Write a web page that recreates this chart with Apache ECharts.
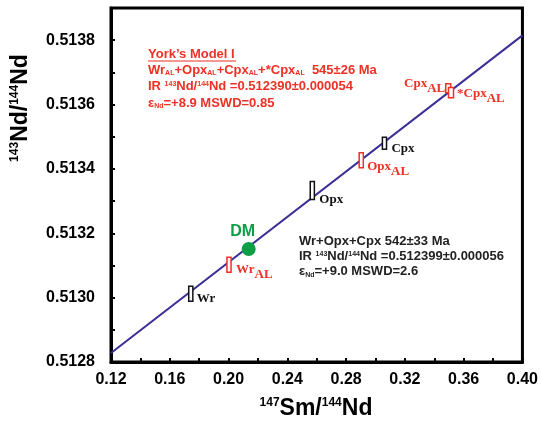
<!DOCTYPE html>
<html>
<head>
<meta charset="utf-8">
<script src="https://cdn.jsdelivr.net/npm/echarts@6/dist/echarts.min.js"></script>
<style>
  html, body { margin: 0; padding: 0; background: #fff; }
  #chart { width: 541px; height: 421px; }
</style>
</head>
<body>
<div id="chart"></div>
<script>
// measured samples (147Sm/144Nd, 143Nd/144Nd) with error box half-widths
const sampleNames = ['Wr', 'WrAL', 'Opx', 'OpxAL', 'Cpx', 'CpxAL', '*CpxAL'];
const smNd = [0.1743, 0.2003, 0.2570, 0.2903, 0.3061, 0.3495, 0.3514];
const ndNd = [0.513012, 0.513102, 0.513333, 0.513427, 0.513480, 0.513651, 0.513637];
const smNdErr = [0.0014, 0.0014, 0.0014, 0.0014, 0.0014, 0.0017, 0.0017];
const ndNdErr = [0.0000234, 0.0000234, 0.000028, 0.0000234, 0.0000187, 0.000014, 0.0000156];

// depleted mantle point and the isochron end points
const dmPoint = [0.2137, 0.513151];
const isochronX = [0.12, 0.40];
const isochronY = [0.512828, 0.513815];

// axis ranges / ticks
const xMin = 0.12, xMax = 0.40, xStep = 0.04;
const yMin = 0.5128, yMax = 0.5139, yStep = 0.0002;

const RED = '#ee3124';
const BLACK = '#111';
const GREEN = '#0e9e46';
const SANS = '"Liberation Sans", Arial, sans-serif';
const SERIF = '"Liberation Serif", "Times New Roman", serif';

// label placement for the error boxes (px from box centre)
const labelLayout = {
  'Wr':     { dx: 6, dy: 5, align: 'left', color: BLACK },
  'WrAL':   { dx: 7, dy: 5, align: 'left', color: RED },
  'Opx':    { dx: 7, dy: 9, align: 'left', color: BLACK },
  'OpxAL':  { dx: 6, dy: 6, align: 'left', color: RED },
  'Cpx':    { dx: 7, dy: 5, align: 'left', color: BLACK },
  'CpxAL':  { dx: -3, dy: -4, align: 'right', color: RED },
  '*CpxAL': { dx: 6, dy: 1, align: 'left', color: RED }
};

function boxLabel(name) {
  if (name.endsWith('AL')) return '{m|' + name.slice(0, -2) + '}{s|AL}';
  return '{m|' + name + '}';
}

function annoRich(color) {
  return {
    m: { fontSize: 13, fontWeight: 'bold', fontFamily: SANS, fill: color },
    sub: { fontSize: 7, fontWeight: 'bold', fontFamily: SANS, fill: color, padding: [7, 0, 0, 0] },
    sup: { fontSize: 7, fontWeight: 'bold', fontFamily: SANS, fill: color, padding: [0, 0, 4, 0] }
  };
}

function annoText(x, y, text, color) {
  return {
    type: 'text', x: x, y: y, z: 10,
    style: {
      text: text, rich: annoRich(color), fill: color,
      font: 'bold 13px ' + SANS,
      align: 'left', verticalAlign: 'middle',
      textAlign: 'left', textVerticalAlign: 'middle'
    }
  };
}

const titleRich = {
  m: { fontSize: 23, fontWeight: 'bold', fontFamily: SANS, fill: '#000' },
  sup: { fontSize: 12, fontWeight: 'bold', fontFamily: SANS, fill: '#000', padding: [0, 0, 13, 0] }
};

const boxData = sampleNames.map((n, i) => ({ name: n, value: [smNd[i], ndNd[i], smNdErr[i], ndNdErr[i]] }));

const chart = echarts.init(document.getElementById('chart'), null, { renderer: 'canvas' });

chart.setOption({
  animation: false,
  backgroundColor: '#fff',
  grid: {
    left: 111, right: 18, top: 8, bottom: 59,
    show: true, borderColor: '#000', borderWidth: 3, backgroundColor: 'transparent'
  },
  xAxis: {
    type: 'value', min: xMin, max: xMax, interval: xStep,
    axisLine: { show: true, lineStyle: { color: '#000', width: 3 } },
    axisTick: { show: true, inside: true, length: 4, lineStyle: { color: '#000', width: 2 } },
    minorTick: { show: true, splitNumber: 2, length: 4, lineStyle: { color: '#000', width: 2 } },
    splitLine: { show: false },
    axisLabel: {
      margin: 10, color: '#000', fontSize: 16, fontWeight: 'bold', fontFamily: SANS,
      showMinLabel: true, showMaxLabel: true,
      formatter: v => v.toFixed(2)
    }
  },
  yAxis: {
    type: 'value', min: yMin, max: yMax, interval: yStep,
    axisLine: { show: true, lineStyle: { color: '#000', width: 3 } },
    axisTick: { show: true, inside: true, length: 4, lineStyle: { color: '#000', width: 2 } },
    minorTick: { show: true, splitNumber: 2, length: 4, lineStyle: { color: '#000', width: 2 } },
    splitLine: { show: false },
    axisLabel: {
      margin: 16, color: '#000', fontSize: 16, fontWeight: 'bold', fontFamily: SANS,
      showMinLabel: true, showMaxLabel: true,
      formatter: v => (v > 0.51385 ? '' : v.toFixed(4))
    }
  },
  series: [
    {
      type: 'line', name: 'isochron',
      data: isochronX.map((x, i) => [x, isochronY[i]]),
      symbol: 'none', z: 2,
      lineStyle: { color: '#3a2f96', width: 2 }
    },
    {
      type: 'custom', name: 'samples', z: 3, clip: false,
      data: boxData,
      renderItem: function (params, api) {
        const x = api.value(0), y = api.value(1), dx = api.value(2), dy = api.value(3);
        const p1 = api.coord([x - dx, y + dy]);
        const p2 = api.coord([x + dx, y - dy]);
        const c = api.coord([x, y]);
        const name = sampleNames[params.dataIndex];
        const lay = labelLayout[name];
        return {
          type: 'group',
          children: [
            {
              type: 'rect',
              shape: { x: p1[0], y: p1[1], width: p2[0] - p1[0], height: p2[1] - p1[1] },
              style: { fill: '#fff', stroke: lay.color, lineWidth: 1.5 }
            },
            {
              type: 'text', x: c[0] + lay.dx, y: c[1] + lay.dy,
              style: {
                text: boxLabel(name),
                font: 'bold 13px ' + SERIF,
                fill: lay.color,
                align: lay.align, verticalAlign: 'middle',
                rich: {
                  m: { fontSize: 13, fontWeight: 'bold', fontFamily: SERIF, fill: lay.color },
                  s: { fontSize: 13, fontWeight: 'bold', fontFamily: SERIF, fill: lay.color, padding: [10, 0, 0, 0] }
                }
              }
            }
          ]
        };
      }
    },
    {
      type: 'scatter', name: 'DM', z: 4,
      data: [dmPoint],
      symbol: 'circle', symbolSize: 14,
      itemStyle: { color: GREEN, opacity: 1 },
      label: {
        show: true, formatter: 'DM', position: 'top', distance: 2, offset: [-6, 0],
        color: GREEN, fontSize: 16, fontWeight: 'bold', fontFamily: SANS
      }
    }
  ],
  graphic: [
    annoText(148, 54, '{m|York’s Model I}', RED),
    { type: 'line', z: 10, shape: { x1: 148, y1: 61, x2: 236, y2: 61 }, style: { stroke: RED, lineWidth: 1 } },
    annoText(148, 70, '{m|Wr}{sub|AL}{m|+Opx}{sub|AL}{m|+Cpx}{sub|AL}{m|+*Cpx}{sub|AL}{m|  545±26 Ma}', RED),
    annoText(148, 86, '{m|IR }{sup|143}{m|Nd/}{sup|144}{m|Nd =0.512390±0.000054}', RED),
    annoText(148, 103, '{m|ε}{sub|Nd}{m|=+8.9 MSWD=0.85}', RED),
    annoText(299, 241.5, '{m|Wr+Opx+Cpx 542±33 Ma}', '#222'),
    annoText(299, 256, '{m|IR }{sup|143}{m|Nd/}{sup|144}{m|Nd =0.512399±0.000056}', '#222'),
    annoText(299, 271.5, '{m|ε}{sub|Nd}{m|=+9.0 MSWD=2.6}', '#222'),
    {
      type: 'text', x: 316, y: 409, z: 10,
      style: {
        text: '{sup|147}{m|Sm/}{sup|144}{m|Nd}', rich: titleRich,
        font: 'bold 23px ' + SANS, fill: '#000',
        align: 'center', verticalAlign: 'middle'
      }
    },
    {
      type: 'text', x: 21, y: 108, z: 10, rotation: Math.PI / 2,
      style: {
        text: '{sup|143}{m|Nd/}{sup|144}{m|Nd}', rich: titleRich,
        font: 'bold 23px ' + SANS, fill: '#000',
        align: 'center', verticalAlign: 'middle'
      }
    }
  ]
});
</script>
</body>
</html>
